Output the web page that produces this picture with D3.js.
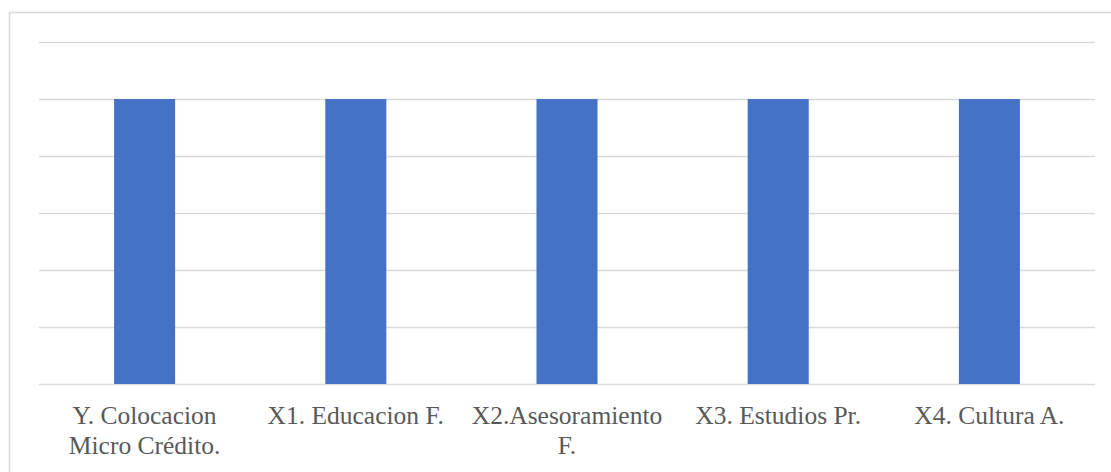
<!DOCTYPE html>
<html><head><meta charset="utf-8"><script src="https://cdn.jsdelivr.net/npm/d3@7"></script></head>
<body style="margin:0">
<div id="wrap" style="position:relative;width:1111px;height:472px;overflow:hidden;">
<svg id="chart" width="1111" height="472" style="position:absolute;left:0;top:0;"></svg>
</div>
<script>
const categories = ["Y. Colocacion Micro Crédito.", "X1. Educacion F.", "X2.Asesoramiento F.", "X3. Estudios Pr.", "X4. Cultura A."];
const values = [5, 5, 5, 5, 5];
const yTicks = [0, 1, 2, 3, 4, 5, 6];

const W = 1111, H = 472;
const margin = { left: 39, right: 16, top: 42, bottom: 88 };
const svg = d3.select("#chart");

svg.append("rect")
  .attr("x", 9.5).attr("y", 12.5)
  .attr("width", W + 20).attr("height", H + 20)
  .attr("fill", "none").attr("stroke", "#d9d9d9").attr("stroke-width", 1.5);

const x = d3.scaleBand().domain(categories).range([margin.left, W - margin.right]).padding(0);
const y = d3.scaleLinear().domain([0, 6]).range([H - margin.bottom, margin.top]);

svg.append("g").selectAll("line").data(yTicks).join("line")
  .attr("x1", margin.left).attr("x2", W - margin.right)
  .attr("y1", d => Math.round(y(d)) + 0.5).attr("y2", d => Math.round(y(d)) + 0.5)
  .attr("stroke", "#d9d9d9").attr("stroke-width", 1.5);

const barW = x.bandwidth() * 0.289;
svg.append("g").selectAll("rect").data(categories).join("rect")
  .attr("x", d => x(d) + (x.bandwidth() - barW) / 2)
  .attr("width", barW)
  .attr("y", (d, i) => y(values[i]))
  .attr("height", (d, i) => y(0) - y(values[i]))
  .attr("fill", "#4472c4");

// category labels as HTML text, wrapped within each band
d3.select("#wrap").selectAll("div.lbl").data(categories).join("div")
  .attr("class", "lbl")
  .style("position", "absolute")
  .style("left", d => (x(d) + 2) + "px")
  .style("top", (y(0) + 17) + "px")
  .style("width", (x.bandwidth() - 4) + "px")
  .style("text-align", "center")
  .style("font-family", '"Liberation Serif", "Times New Roman", serif')
  .style("font-size", "25.5px")
  .style("line-height", "30px")
  .style("color", "#595959")
  .text(d => d);
</script></body></html>
